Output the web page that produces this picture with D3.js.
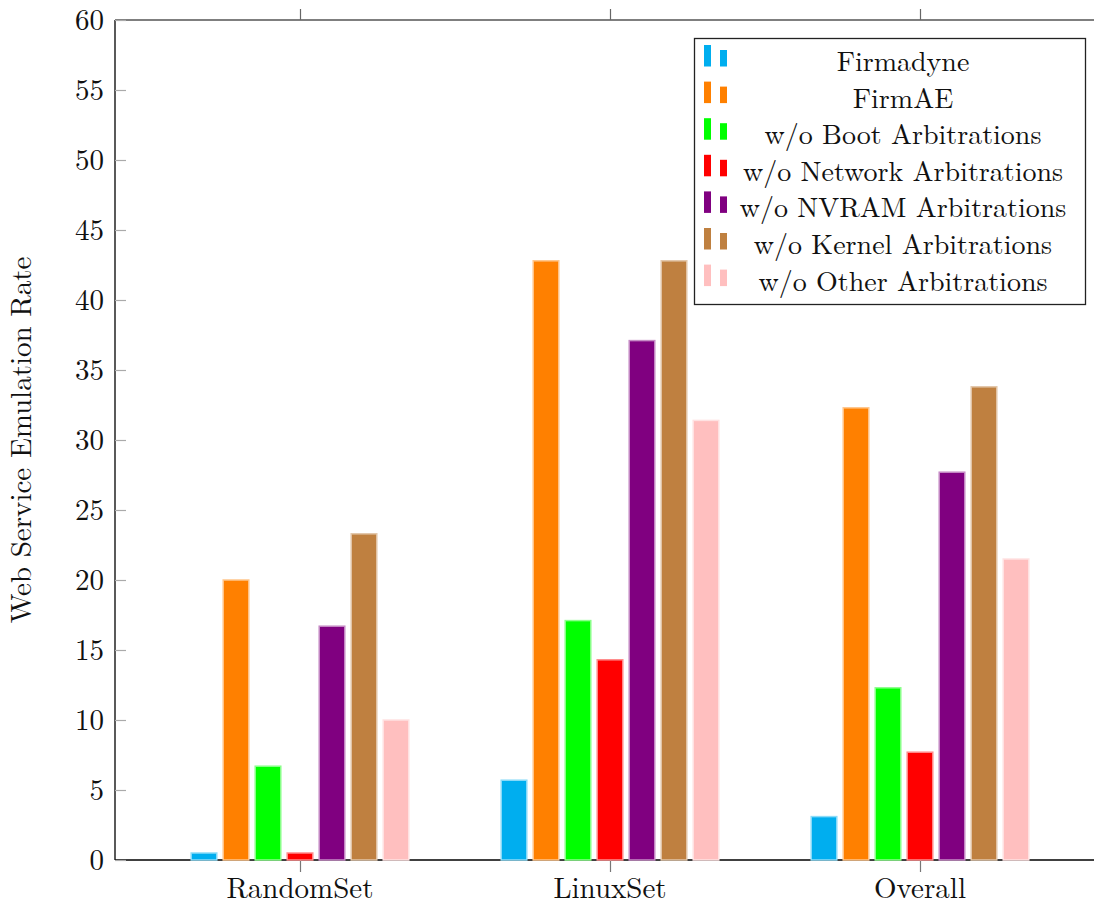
<!DOCTYPE html>
<html>
<head>
<meta charset="utf-8">
<script src="https://cdn.jsdelivr.net/npm/d3@7"></script>
<style>
  body { margin: 0; background: #fff; }
  svg { display: block; font-family: "Latin Modern Roman", "Liberation Serif", serif; }
</style>
</head>
<body>
<div id="chart"></div>
<script>
// data
const categories = ["RandomSet", "LinuxSet", "Overall"];
const seriesNames = ["Firmadyne", "FirmAE", "w/o Boot Arbitrations", "w/o Network Arbitrations",
  "w/o NVRAM Arbitrations", "w/o Kernel Arbitrations", "w/o Other Arbitrations"];
const seriesColors = ["#00aeef", "#ff8000", "#00ff00", "#ff0000", "#800080", "#bf8040", "#ffbfbf"];
const firmadyne = [0.5, 5.7, 3.1];
const firmae = [20.0, 42.8, 32.3];
const noBoot = [6.7, 17.1, 12.3];
const noNetwork = [0.5, 14.3, 7.7];
const noNvram = [16.7, 37.1, 27.7];
const noKernel = [23.3, 42.8, 33.8];
const noOther = [10.0, 31.4, 21.5];
const seriesValues = [firmadyne, firmae, noBoot, noNetwork, noNvram, noKernel, noOther];
const yTicks = [0, 5, 10, 15, 20, 25, 30, 35, 40, 45, 50, 55, 60];

const W = 1094, H = 905;
const margin = {top: 20, right: 0, bottom: 45, left: 115};

const svg = d3.select("#chart").append("svg")
  .attr("width", W)
  .attr("height", H);

// scales
const x = d3.scalePoint()
  .domain(categories)
  .range([300, 920]);

const xSub = d3.scaleBand()
  .domain(seriesNames)
  .range([-112, 112])
  .paddingInner(0.2)
  .paddingOuter(0.1);

const y = d3.scaleLinear()
  .domain([0, 60])
  .range([H - margin.bottom, margin.top]);

const y0 = y(0), yTop = y(60);

// frame lines
svg.append("line")
  .attr("x1", margin.left).attr("x2", W)
  .attr("y1", yTop).attr("y2", yTop)
  .attr("stroke", "#555").attr("stroke-width", 1.3);
svg.append("line")
  .attr("x1", margin.left).attr("x2", W)
  .attr("y1", y0).attr("y2", y0)
  .attr("stroke", "#000").attr("stroke-width", 1.3);
svg.append("line")
  .attr("x1", margin.left).attr("x2", margin.left)
  .attr("y1", yTop).attr("y2", y0)
  .attr("stroke", "#000").attr("stroke-width", 1.3);

// y axis: inward ticks, labels on the left
const yAxis = svg.append("g")
  .attr("transform", "translate(" + margin.left + ",0)")
  .call(d3.axisRight(y).tickValues(yTicks).tickSize(11).tickFormat(""));
yAxis.select(".domain").remove();
yAxis.selectAll(".tick line").attr("stroke", "#aaa").attr("stroke-width", 1.2);

svg.append("g").selectAll("text")
  .data(yTicks)
  .enter().append("text")
  .attr("x", margin.left - 11)
  .attr("y", d => y(d) + 10)
  .attr("text-anchor", "end")
  .attr("font-size", 29)
  .attr("fill", "#111")
  .text(d => d);

// x ticks on bottom and top, pointing outward
const xBottom = svg.append("g")
  .attr("transform", "translate(0," + y0 + ")")
  .call(d3.axisBottom(x).tickSize(12).tickFormat(""));
xBottom.select(".domain").remove();
xBottom.selectAll(".tick line").attr("stroke", "#777").attr("stroke-width", 1.2);

const xTop = svg.append("g")
  .attr("transform", "translate(0," + yTop + ")")
  .call(d3.axisTop(x).tickSize(11).tickFormat(""));
xTop.select(".domain").remove();
xTop.selectAll(".tick line").attr("stroke", "#666").attr("stroke-width", 1.2);

svg.append("g").selectAll("text")
  .data(categories)
  .enter().append("text")
  .attr("x", d => x(d))
  .attr("y", 898)
  .attr("text-anchor", "middle")
  .attr("font-size", 29)
  .attr("fill", "#111")
  .text(d => d);

// bars
const edge = c => d3.interpolateRgb(c, "#fff")(0.55);

seriesNames.forEach(function(name, i) {
  svg.append("g").selectAll("rect")
    .data(seriesValues[i])
    .enter().append("rect")
    .attr("x", (d, j) => x(categories[j]) + xSub(name))
    .attr("y", d => y(d))
    .attr("width", xSub.bandwidth())
    .attr("height", d => y0 - y(d))
    .attr("fill", seriesColors[i])
    .attr("stroke", edge(seriesColors[i]))
    .attr("stroke-width", 1.5);
});

// y axis title
svg.append("text")
  .attr("transform", "translate(31," + ((yTop + y0) / 2) + ") rotate(-90)")
  .attr("text-anchor", "middle")
  .attr("font-size", 29)
  .attr("fill", "#111")
  .text("Web Service Emulation Rate");

// legend
const legend = svg.append("g");
legend.append("rect")
  .attr("x", 694.5).attr("y", 38.5)
  .attr("width", 391).attr("height", 266)
  .attr("fill", "#fff")
  .attr("stroke", "#222").attr("stroke-width", 1.3);

const rowStep = 36.6;
seriesNames.forEach(function(name, i) {
  const base = 71 + i * rowStep;
  const g = legend.append("g");
  g.append("rect")
    .attr("x", 704).attr("y", base - 26)
    .attr("width", 7).attr("height", 21.5)
    .attr("fill", seriesColors[i]);
  g.append("rect")
    .attr("x", 720).attr("y", base - 21)
    .attr("width", 7).attr("height", 16.5)
    .attr("fill", seriesColors[i]);
  g.append("text")
    .attr("x", 903).attr("y", base)
    .attr("text-anchor", "middle")
    .attr("font-size", 28)
    .attr("fill", "#111")
    .text(name);
});
</script>
</body>
</html>
